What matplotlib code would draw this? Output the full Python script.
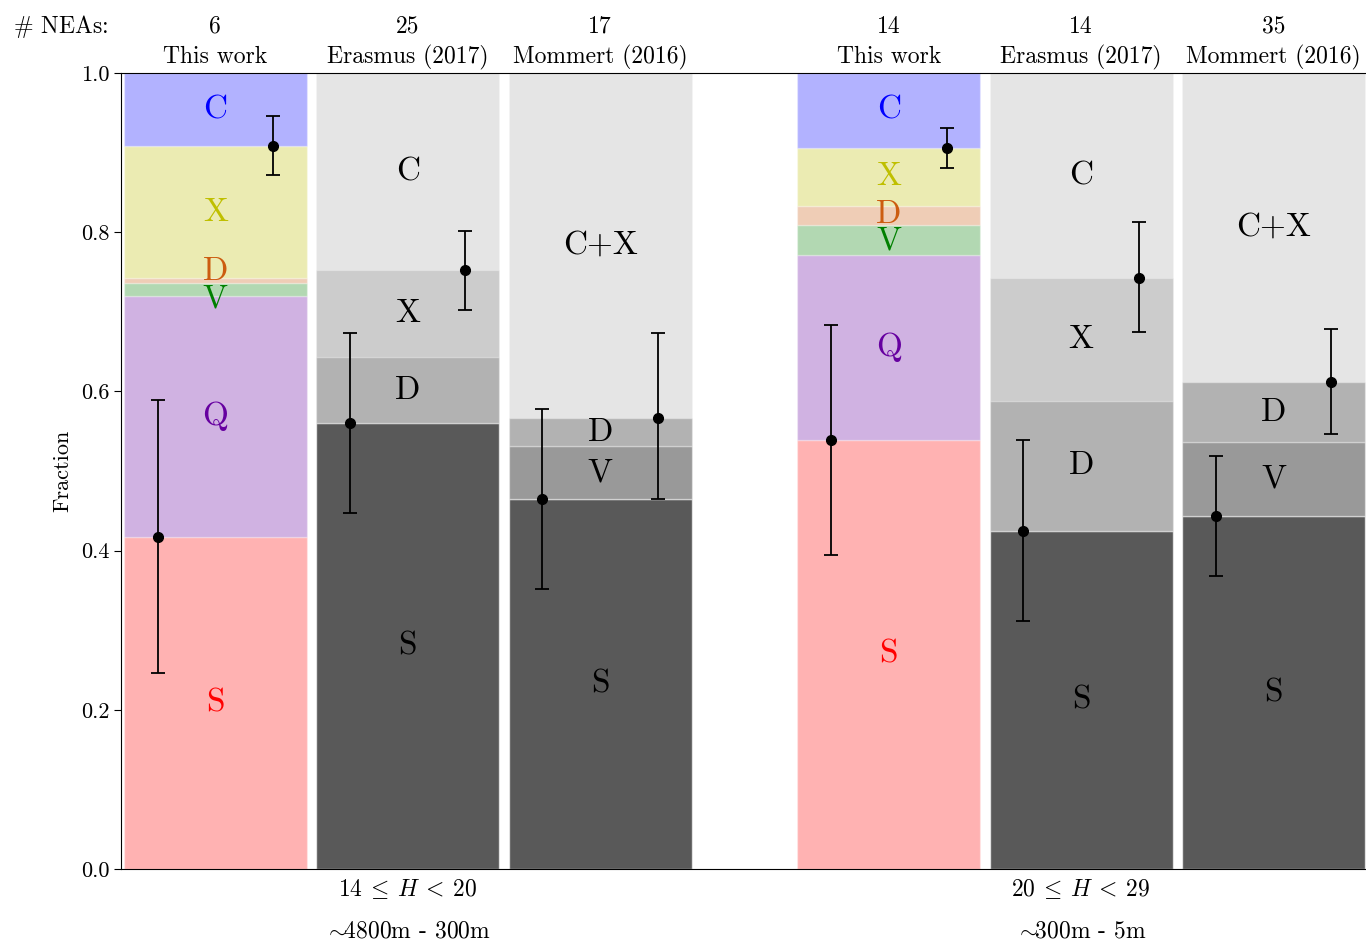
import numpy as np
import matplotlib
matplotlib.use('Agg')
import matplotlib.pyplot as plt

plt.rcParams['font.family'] = 'serif'
plt.rcParams['font.serif'] = ['cmr10']
plt.rcParams['mathtext.fontset'] = 'cm'
plt.rcParams['axes.formatter.use_mathtext'] = True

# fractions per class, bottom to top
tw_classes = ['S', 'Q', 'V', 'D', 'X', 'C']
er_classes = ['S', 'D', 'X', 'C']
mo_classes = ['S', 'V', 'D', 'C+X']

tw_large = [0.417, 0.303, 0.016, 0.006, 0.166, 0.092]
er_large = [0.560, 0.083, 0.109, 0.248]
mo_large = [0.465, 0.066, 0.036, 0.433]
tw_small = [0.539, 0.232, 0.038, 0.024, 0.073, 0.094]
er_small = [0.425, 0.163, 0.154, 0.258]
mo_small = [0.443, 0.093, 0.076, 0.388]

n_neas = [6, 25, 17, 14, 14, 35]
sources = ['This work', 'Erasmus (2017)', 'Mommert (2016)'] * 2

# uncertainty ranges on the S fraction and on the boundary below C
s_low = [0.246, 0.447, 0.352, 0.394, 0.312, 0.368]
s_high = [0.589, 0.673, 0.578, 0.683, 0.539, 0.519]
c_low = [0.872, 0.702, 0.465, 0.881, 0.675, 0.546]
c_high = [0.946, 0.801, 0.673, 0.931, 0.813, 0.678]

h_ranges = [r'$14 \:\leq\: H \:<\: 20$', r'$20 \:\leq\: H \:<\: 29$']
sizes = [r'$\sim\!\!$4800m - 300m', r'$\sim\!\!$300m - 5m']

# colours
tw_colors = {'S': 'red', 'Q': '#6600a0', 'V': 'green', 'D': '#cc5c10',
             'X': '#bfbf00', 'C': 'blue'}
grey_alpha = {'S': 0.65, 'V': 0.4, 'D': 0.3, 'X': 0.2, 'C': 0.1, 'C+X': 0.1}

xpos = [0, 1, 2, 3.5, 4.5, 5.5]
width = 0.95

bars = [(tw_classes, tw_large), (er_classes, er_large), (mo_classes, mo_large),
        (tw_classes, tw_small), (er_classes, er_small), (mo_classes, mo_small)]


def spread(ys, gap=0.034):
    # push apart labels of thin neighbouring segments
    ys = list(ys)
    for _ in range(20):
        for j in range(len(ys) - 1):
            d = ys[j+1] - ys[j]
            if d < gap:
                m = 0.5*(ys[j] + ys[j+1])
                ys[j], ys[j+1] = m - gap/2, m + gap/2
    return ys


fig = plt.figure(figsize=(13.66, 9.41), dpi=100)
ax = fig.add_axes([121/1366, 72/941, 1 - 121/1366, 796/941])

for i, (cls, frac) in enumerate(bars):
    bottoms = np.concatenate([[0], np.cumsum(frac)[:-1]])
    mids = spread(bottoms + np.array(frac)/2)
    for c, f, b, ym in zip(cls, frac, bottoms, mids):
        if cls is tw_classes:
            ax.bar(xpos[i], f, width, bottom=b, color=tw_colors[c], alpha=0.3,
                   edgecolor='white', linewidth=1)
            tcol = tw_colors[c]
        else:
            ax.bar(xpos[i], f, width, bottom=b, color='k', alpha=grey_alpha[c],
                   edgecolor='white', linewidth=1)
            tcol = 'k'
        ax.text(xpos[i], ym, c, color=tcol, fontsize=24,
                ha='center', va='center')

    # error bars: S fraction on the left, top of non-C classes on the right
    s = frac[0]
    top = 1.0 - frac[-1]
    ax.errorbar(xpos[i] - 0.3, s, yerr=[[s - s_low[i]], [s_high[i] - s]],
                fmt='o', color='k', ms=7, capsize=5, elinewidth=1.3, capthick=1.3)
    ax.errorbar(xpos[i] + 0.3, top, yerr=[[top - c_low[i]], [c_high[i] - top]],
                fmt='o', color='k', ms=7, capsize=5, elinewidth=1.3, capthick=1.3)

    ax.text(xpos[i], 1.058, str(n_neas[i]), transform=ax.get_xaxis_transform(),
            ha='center', va='center', fontsize=17)
    ax.text(xpos[i], 1.020, sources[i], transform=ax.get_xaxis_transform(),
            ha='center', va='center', fontsize=17)

ax.text(-0.049, 1.058, r'$\#$ NEAs:', transform=ax.transAxes, ha='center',
        va='center', fontsize=17)

for k, xc in enumerate([xpos[1], xpos[4]]):
    ax.text(xc, -0.025, h_ranges[k], transform=ax.get_xaxis_transform(),
            ha='center', va='center', fontsize=17)
    ax.text(xc, -0.078, sizes[k], transform=ax.get_xaxis_transform(),
            ha='center', va='center', fontsize=17)

ax.set_xlim(-0.49, 5.98)
ax.set_ylim(0, 1)
ax.set_xticks([])
ax.set_yticks(np.arange(0, 1.01, 0.2))
ax.set_yticklabels(['%.1f' % v for v in np.arange(0, 1.01, 0.2)])
ax.tick_params(axis='y', labelsize=16, length=5)
ax.set_ylabel('Fraction', fontsize=16, labelpad=6)
ax.spines['right'].set_visible(False)

fig.savefig('out.png', dpi=100)
